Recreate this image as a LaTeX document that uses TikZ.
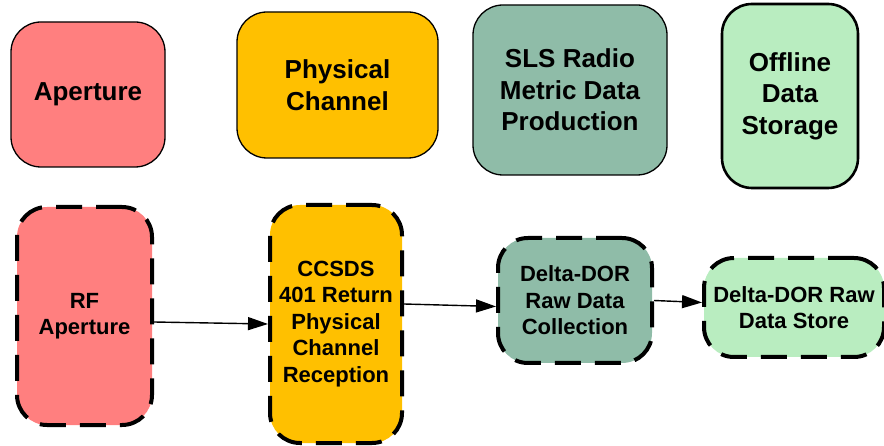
\documentclass[tikz,border=0pt]{standalone}
\usepackage{fontspec}
\setmainfont{Liberation Sans}
\usetikzlibrary{arrows.meta}
\definecolor{ApertureRed}{RGB}{255,127,127}
\definecolor{ChannelGold}{RGB}{255,192,0}
\definecolor{MetricTeal}{RGB}{143,188,168}
\definecolor{StoreGreen}{RGB}{185,237,192}
\tikzset{
  funcbox/.style={draw=black,rounded corners=30pt,line width=1.3pt,
    align=center,inner sep=2pt,font=\fontsize{26}{31.5}\selectfont\bfseries},
  implbox/.style={draw=black,rounded corners=30pt,line width=4pt,
    dash pattern=on 26pt off 14pt,align=center,inner sep=2pt,
    font=\fontsize{22}{26.5}\selectfont\bfseries},
  arrow/.style={-{Triangle[length=20pt,width=13pt]},line width=1.4pt,black}
}
\begin{document}
\begin{tikzpicture}[x=1pt,y=-1pt]
  \useasboundingbox (0,0) rectangle (884,446);
  % functional row
  \node[funcbox,fill=ApertureRed,minimum width=154pt,minimum height=145pt]
    (aperture) at (88,94.5) {Aperture};
  \node[funcbox,fill=ChannelGold,minimum width=201pt,minimum height=146pt]
    (physchan) at (337.5,85) {Physical\\Channel};
  \node[funcbox,fill=MetricTeal,minimum width=194pt,minimum height=170pt]
    (slsradio) at (570,90) {SLS Radio\\Metric Data\\Production};
  \node[funcbox,fill=StoreGreen,line width=2.6pt,minimum width=136pt,minimum height=184pt]
    (offline) at (790,96) {Offline\\Data\\Storage};
  % implementation row
  \node[implbox,fill=ApertureRed,minimum width=135pt,minimum height=218pt]
    (rfaper) at (84.5,316) {RF\\Aperture};
  \node[implbox,fill=ChannelGold,minimum width=132pt,minimum height=238pt]
    (ccsds) at (336,324) {CCSDS\\401 Return\\Physical\\Channel\\Reception};
  \node[implbox,fill=MetricTeal,minimum width=154pt,minimum height=125pt]
    (ddorcoll) at (575,300.5) {Delta-DOR\\Raw Data\\Collection};
  \node[implbox,fill=StoreGreen,minimum width=180pt,minimum height=99pt]
    (ddorstore) at (794,307.5) {Delta-DOR Raw\\Data Store};
  \draw[arrow] ([yshift=-6pt]rfaper.east) -- (ccsds.west);
  \draw[arrow] ([yshift=20pt]ccsds.east) -- ([yshift=-6pt]ddorcoll.west);
  \draw[arrow] (ddorcoll.east) -- ([yshift=5pt]ddorstore.west);
\end{tikzpicture}
\end{document}
